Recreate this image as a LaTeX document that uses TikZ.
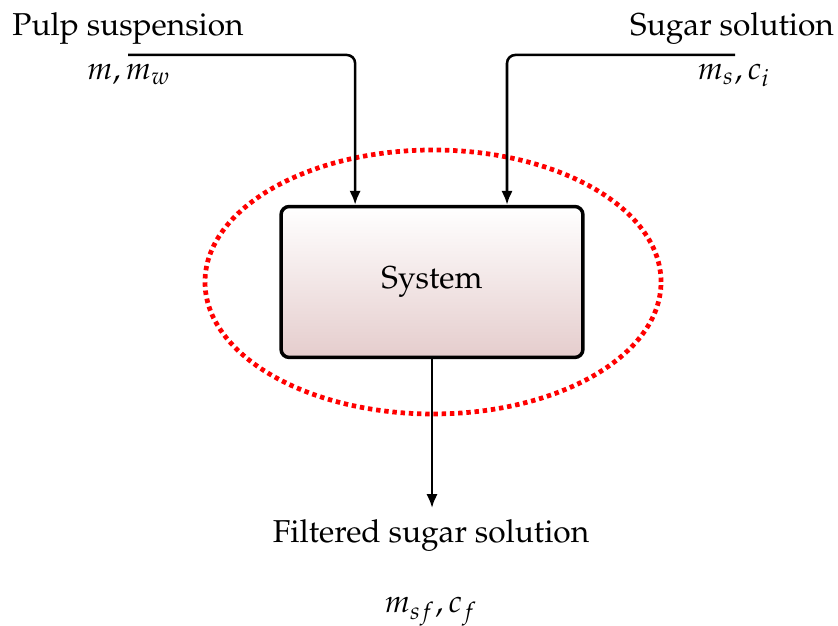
\documentclass[tikz,border=0pt]{standalone}
\usepackage[T1]{fontenc}
\usepackage{mathpazo}
\usetikzlibrary{arrows.meta}
\definecolor{sysbot}{RGB}{229,205,205}
\begin{document}
\begin{tikzpicture}[x=0.316pt,y=0.316pt,
  sys/.style={draw=black, line width=1.1pt, rounded corners=2.6pt, top color=white, bottom color=sysbot,
    minimum width=95.4pt, minimum height=47.7pt, inner sep=0pt},
  flow/.style={line width=0.8pt, rounded corners=2.6pt, -{Latex[length=4.4pt,width=3.6pt]}},
  bound/.style={red, line width=1.5pt, dash pattern=on 1.4pt off 1.2pt},
  lbl/.style={inner sep=0pt}]
\useasboundingbox (0,0) rectangle (838,626);
\draw[bound] (433,344) ellipse [x radius=228, y radius=132];
\node[sys] (sys) at (432,344) {System};
\coordinate (pin) at (128,571);
\coordinate (sin) at (735,571);
\coordinate (pout) at (432,118);
\node[lbl, anchor=base] (pulp) at (128,590) {Pulp suspension};
\node[lbl, anchor=base] (pulpv) at (129,546) {$m,m_w$};
\node[lbl, anchor=base] (sugar) at (732,590) {Sugar solution};
\node[lbl, anchor=base] (sugarv) at (734,546) {$m_s,c_i$};
\node[lbl, anchor=base] (filt) at (431,83) {Filtered sugar solution};
\node[lbl, anchor=base] (filtv) at (431,13) {$m_{sf},c_f$};
\draw[flow] (pin) -| ([xshift=-24.3pt]sys.north);
\draw[flow] (sin) -| ([xshift=23.7pt]sys.north);
\draw[flow] (sys.south) -- (pout);
\end{tikzpicture}
\end{document}
